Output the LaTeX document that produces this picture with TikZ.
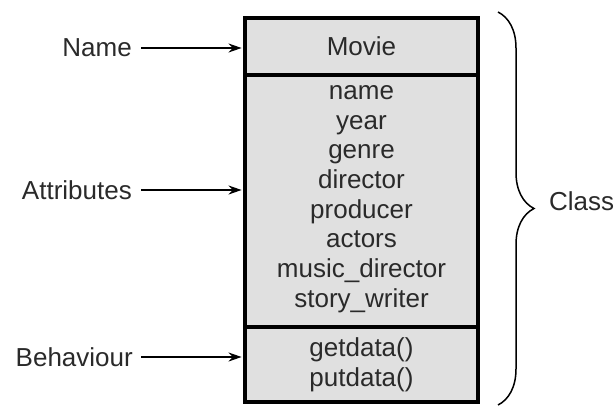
\documentclass[tikz,border=0pt]{standalone}
\usepackage{fontspec}
\setmainfont{Liberation Sans}
\usetikzlibrary{arrows.meta,decorations.pathreplacing}
\definecolor{boxgray}{HTML}{E0E0E0}
\definecolor{textgray}{HTML}{2A2A2A}

\begin{document}
\begin{tikzpicture}[x=1pt,y=-1pt,
  compartment/.style={draw=black,line width=3.5pt,fill=boxgray,minimum width=233pt,inner sep=0pt,
    text=textgray,font=\fontsize{26}{30}\selectfont,align=center},
  entry/.style={text=textgray,font=\fontsize{26}{29.7}\selectfont,align=center,inner sep=0pt},
  tag/.style={text=textgray,font=\fontsize{26}{30}\selectfont,inner sep=0pt},
  pointer/.style={line width=1.3pt,-{Stealth[length=13pt,width=9pt]},shorten >=1.7pt}]
\useasboundingbox (0,0) rectangle (614,407);

% the class box
\node[compartment,minimum height=57pt] (movie) at (361.5,46.5) {Movie};
\node[compartment,minimum height=252pt] (attrbox) at (361.5,201) {};
\node[entry] (attrs) at (361.5,199) {name\\year\\genre\\director\\producer\\actors\\music\_director\\story\_writer};
\node[compartment,minimum height=75pt] (methods) at (361.5,364.5) {getdata()\\putdata()};

% labels on the left
\node[tag,anchor=east] (nametag) at (132,48) {Name};
\node[tag,anchor=east] (attrtag) at (132,190) {Attributes};
\node[tag,anchor=east] (behavtag) at (133,357) {Behaviour};

\draw[pointer] ([xshift=9pt]nametag.east) -- (nametag.east -| movie.west);
\draw[pointer] ([xshift=9pt]attrtag.east) -- (attrtag.east -| attrbox.west);
\draw[pointer] ([xshift=8pt]behavtag.east) -- (behavtag.east -| methods.west);

% brace round the whole class
\coordinate (bracetop) at (498,12);
\coordinate (bracebot) at (498,405);
\draw[decorate,decoration={brace,amplitude=36pt},line width=1.5pt] (bracetop) -- (bracebot);
\node[tag,anchor=west] (classtag) at (549,201) {Class};
\end{tikzpicture}
\end{document}
